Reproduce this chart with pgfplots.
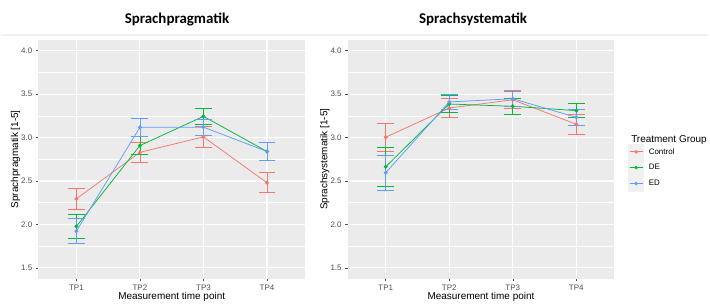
\documentclass[border=0pt]{standalone}
\usepackage{pgfplots}
\pgfplotsset{compat=1.18}
\usepackage{pgfplotstable}
\usepackage{fontspec}
\setmainfont{Liberation Sans}
\newfontfamily\titlefont{Carlito}
\definecolor{cctrl}{HTML}{F8766D}
\definecolor{cde}{HTML}{00BA38}
\definecolor{ced}{HTML}{619CFF}
\definecolor{panelbg}{HTML}{EBEBEB}
\definecolor{tickgray}{HTML}{4D4D4D}

% Sprachpragmatik
\pgfplotstableread{
x y e
1 2.295 0.125
2 2.830 0.115
3 3.008 0.122
4 2.480 0.115
}\lctrl
\pgfplotstableread{
x y e
1 1.977 0.143
2 2.908 0.103
3 3.244 0.092
4 2.840 0.106
}\lde
\pgfplotstableread{
x y e
1 1.923 0.143
2 3.118 0.103
3 3.120 0.095
4 2.840 0.106
}\led
% Sprachsystematik
\pgfplotstableread{
x y e
1 3.004 0.158
2 3.340 0.113
3 3.435 0.103
4 3.153 0.115
}\rctrl
\pgfplotstableread{
x y e
1 2.664 0.222
2 3.386 0.095
3 3.360 0.095
4 3.310 0.082
}\rde
\pgfplotstableread{
x y e
1 2.595 0.205
2 3.410 0.085
3 3.447 0.090
4 3.233 0.095
}\red

\pgfplotsset{
  gg/.style={
    scale only axis, width=268pt, height=240pt,
    xmin=0.4, xmax=4.6, ymin=1.375, ymax=4.125,
    axis background/.style={fill=panelbg},
    axis x line*=bottom, axis y line*=left,
    axis line style={draw=none},
    xtick={1,2,3,4}, xticklabels={TP1,TP2,TP3,TP4},
    ytick={1.5,2.0,2.5,3.0,3.5,4.0},
    minor ytick={1.75,2.25,2.75,3.25,3.75},
    grid=both,
    major grid style={white, line width=1.1pt},
    minor grid style={white, line width=0.5pt},
    tick align=outside, major tick length=2.5pt, minor tick length=0pt,
    tick style={tickgray, line width=0.5pt},
    ticklabel style={font=\fontsize{8}{9}\selectfont, text=tickgray},
    /pgf/number format/assume math mode=true,
    yticklabel style={/pgf/number format/.cd, fixed, fixed zerofill, precision=1},
    xlabel={Measurement time point},
    xlabel style={font=\fontsize{10}{12}\selectfont, at={(axis description cs:0.5,-0.075)}, anchor=center},
    ylabel style={font=\fontsize{10}{12}\selectfont, at={(axis description cs:-0.085,0.5)}, anchor=center, rotate=0},
    title style={font=\titlefont\bfseries\fontsize{15}{17}\selectfont, anchor=center},
    clip=false,
  },
  ser/.style={color=#1, line width=0.75pt, mark=*, mark size=1.6pt,
    error bars/.cd, y dir=both, y explicit,
    error bar style={draw=#1, line width=0.75pt},
    error mark options={draw=#1, rotate=90, mark size=8.5pt, line width=0.75pt},
    /pgfplots/.cd},
}

\begin{document}
\begin{tikzpicture}
\path (0pt,0pt) rectangle (710pt,305pt);
\draw[black!6, line width=1.5pt] (0pt,270pt) -- (710pt,270pt);
\begin{axis}[gg, at={(37.7pt,25pt)}, anchor=south west,
  title={Sprachpragmatik}, title style={at={(axis description cs:0.52,1.062)}},
  ylabel={Sprachpragmatik [1-5]}]
\addplot[ser=cctrl] table[x=x,y=y,y error=e]{\lctrl};
\addplot[ser=cde] table[x=x,y=y,y error=e]{\lde};
\addplot[ser=ced] table[x=x,y=y,y error=e]{\led};
\end{axis}
\begin{axis}[gg, at={(348.4pt,25pt)}, anchor=south west,
  title={Sprachsystematik}, title style={at={(axis description cs:0.47,1.062)}},
  ylabel={Sprachsystematik [1-5]},
  legend style={at={(axis description cs:1.052,0.565)}, anchor=north west,
    draw=none, fill=none, font=\fontsize{8}{9}\selectfont,
    row sep=0pt, column sep=5pt, inner sep=0pt,
    nodes={inner sep=0pt}},
  legend cell align=left,
  legend image code/.code={
    \fill[black!6] (0pt,-7.75pt) rectangle (15pt,7.75pt);
    \draw[#1, line width=0.75pt] (1pt,0pt) -- (14pt,0pt);
    \fill[#1] (7.5pt,0pt) circle (1.6pt);
  }]
\addplot[forget plot, ser=cctrl] table[x=x,y=y,y error=e]{\rctrl};
\addplot[forget plot, ser=cde] table[x=x,y=y,y error=e]{\rde};
\addplot[forget plot, ser=ced] table[x=x,y=y,y error=e]{\red};
\addlegendimage{color=cctrl}
\addlegendentry{Control}
\addlegendimage{color=cde}
\addlegendentry{DE}
\addlegendimage{color=ced}
\addlegendentry{ED}
\node[anchor=west, font=\fontsize{10}{12}\selectfont] at (axis description cs:1.05,0.58) {Treatment Group};
\end{axis}
\end{tikzpicture}
\end{document}
